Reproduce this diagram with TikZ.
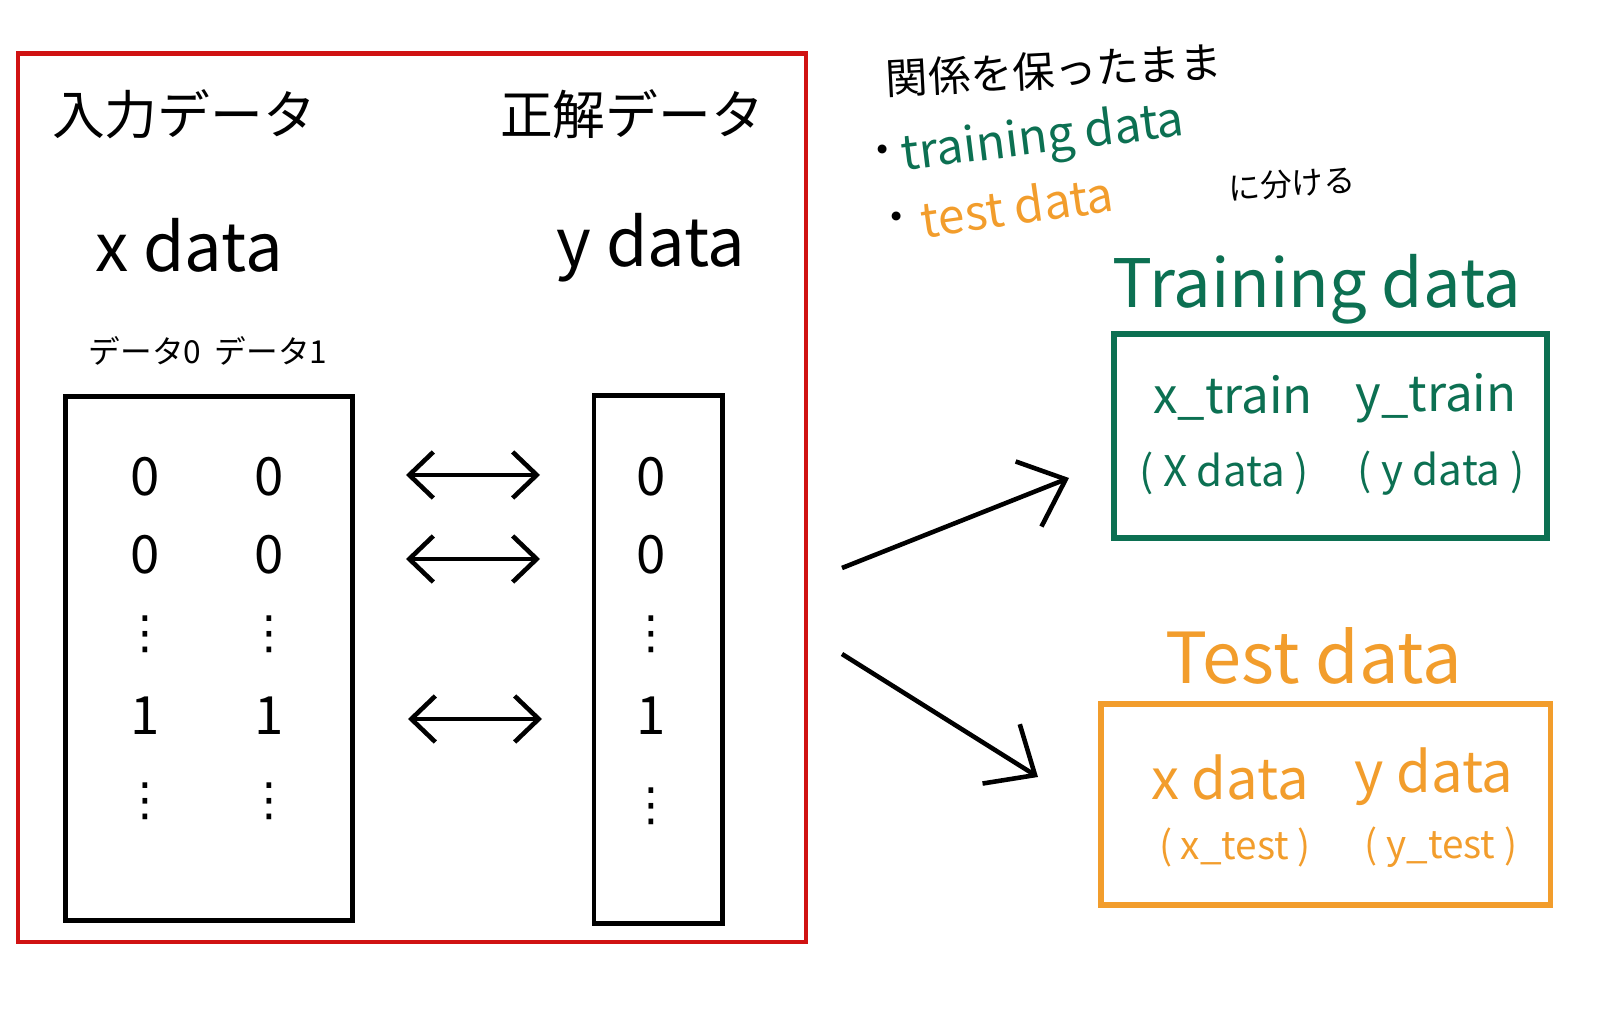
\documentclass[tikz,border=0pt]{standalone}
\usepackage{fontspec}
\setmainfont{Noto Sans CJK JP}
\newfontfamily\dejavu{DejaVu Sans}
\usetikzlibrary{arrows.meta}
\definecolor{redbox}{RGB}{208,18,18}
\definecolor{tgreen}{RGB}{12,112,82}
\definecolor{torange}{RGB}{242,157,44}
\tikzset{
  box/.style={draw,inner sep=0pt,fill=none},
  val/.style={font=\fontsize{15}{15}\selectfont,inner sep=0pt},
  dotsv/.style={font=\dejavu\fontsize{13}{13}\selectfont,inner sep=0pt},
  dbl/.style={line width=1.3pt,{Straight Barb[length=2.4mm,width=4.6mm]}-{Straight Barb[length=2.4mm,width=4.6mm]}},
  split/.style={line width=1.3pt,-{Straight Barb[length=4mm,width=7mm]}},
  big/.style={font=\fontsize{15}{15}\selectfont,inner sep=0pt},
}
\begin{document}
\begin{tikzpicture}[x=0.01cm,y=-0.01cm]
\useasboundingbox (0,0) rectangle (1620,1013);
% frames
\node[box,draw=redbox,line width=1.2pt,minimum width=7.874cm,minimum height=8.883cm] (all) at (412.3,497.9) {};
\node[box,line width=1.4pt,minimum width=2.86cm,minimum height=5.23cm] (xbox) at (209,658.5) {};
\node[box,line width=1.4pt,minimum width=1.28cm,minimum height=5.27cm] (ybox) at (658,659.5) {};
\node[box,draw=tgreen,line width=1.7pt,minimum width=4.33cm,minimum height=2.04cm] (trbox) at (1330.5,436) {};
\node[box,draw=torange,line width=1.5pt,minimum width=4.49cm,minimum height=2.01cm] (tebox) at (1325.5,804.5) {};
% headings
\node[big] (inp) at (184,114) {入力データ};
\node[big] (ans) at (632,114) {正解データ};
\node[font=\fontsize{19}{19}\selectfont,inner sep=0pt] (xd) at (189,245) {x data};
\node[font=\fontsize{19}{19}\selectfont,inner sep=0pt] (yd) at (651,248) {y data};
\node[font=\fontsize{9}{9}\selectfont,inner sep=0pt] (d0) at (145,351) {データ0};
\node[font=\fontsize{9}{9}\selectfont,inner sep=0pt] (d1) at (271,351) {データ1};
% values
\node[val] (a1) at (145,477) {0};
\node[val] (b1) at (269,477) {0};
\node[val] (c1) at (651,477) {0};
\node[val] (a2) at (145,555) {0};
\node[val] (b2) at (269,555) {0};
\node[val] (c2) at (651,555) {0};
\node[dotsv] (a3) at (145,634) {⋮};
\node[dotsv] (b3) at (269,634) {⋮};
\node[dotsv] (c3) at (651,634) {⋮};
\node[val] (a4) at (145,716) {1};
\node[val] (b4) at (269,716) {1};
\node[val] (c4) at (651,716) {1};
\node[dotsv] (a5) at (145,801) {⋮};
\node[dotsv] (b5) at (269,801) {⋮};
\node[dotsv] (c5) at (651,806) {⋮};
% double arrows
\coordinate (l1) at (406,475); \coordinate (r1) at (540,475);
\coordinate (l2) at (406,559); \coordinate (r2) at (540,559);
\coordinate (l4) at (408,719); \coordinate (r4) at (542,719);
\draw[dbl] (l1) -- (r1);
\draw[dbl] (l2) -- (r2);
\draw[dbl] (l4) -- (r4);
% notes
\node[font=\fontsize{12}{12}\selectfont,inner sep=0pt,rotate=3] (rel) at (1054,70) {関係を保ったまま};
\node[font=\fontsize{12}{12}\selectfont,inner sep=0pt] (dot1) at (883,155) {・};
\node[font=\fontsize{13.6}{13.6}\selectfont,inner sep=0pt,text=tgreen,rotate=7] (trn) at (1043,140) {training data};
\node[font=\fontsize{12}{12}\selectfont,inner sep=0pt] (dot2) at (897,222) {・};
\node[font=\fontsize{13.6}{13.6}\selectfont,inner sep=0pt,text=torange,rotate=8] (tst) at (1017,206) {test data};
\node[font=\fontsize{9}{9}\selectfont,inner sep=0pt,rotate=4] (wake) at (1292,184) {に分ける};
% split arrows
\coordinate (src1) at (842,568);
\coordinate (dst1) at (1069,478);
\coordinate (src2) at (842,654);
\coordinate (dst2) at (1038,777);
\draw[split] (src1) -- (dst1);
\draw[split] (src2) -- (dst2);
% training
\node[font=\fontsize{19}{19}\selectfont,inner sep=0pt,text=tgreen] (trt) at (1317,289) {Training data};
\node[font=\fontsize{14}{14}\selectfont,inner sep=0pt,text=tgreen] (xtr) at (1233,398) {x\_train};
\node[font=\fontsize{14}{14}\selectfont,inner sep=0pt,text=tgreen] (ytr) at (1436,398) {y\_train};
\node[font=\fontsize{12}{12}\selectfont,inner sep=0pt,text=tgreen] (xtrd) at (1224,473) {( X data )};
\node[font=\fontsize{12}{12}\selectfont,inner sep=0pt,text=tgreen] (ytrd) at (1441,473) {( y data )};
% test
\node[font=\fontsize{20}{20}\selectfont,inner sep=0pt,text=torange] (tet) at (1314,656) {Test data};
\node[font=\fontsize{16}{16}\selectfont,inner sep=0pt,text=torange] (xte) at (1230,777) {x data};
\node[font=\fontsize{16}{16}\selectfont,inner sep=0pt,text=torange] (yte) at (1434,777) {y data};
\node[font=\fontsize{11}{11}\selectfont,inner sep=0pt,text=torange] (xted) at (1235,847) {( x\_test )};
\node[font=\fontsize{11}{11}\selectfont,inner sep=0pt,text=torange] (yted) at (1441,847) {( y\_test )};
\end{tikzpicture}
\end{document}
